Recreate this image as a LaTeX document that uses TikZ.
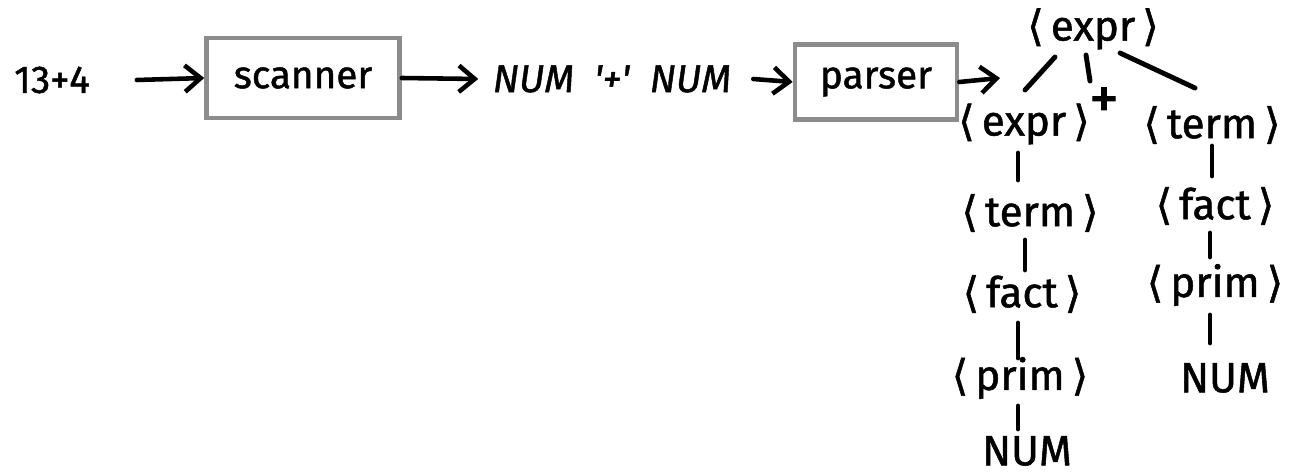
\documentclass[tikz,border=0pt]{standalone}
\usepackage{fontspec}
\setmainfont{Fira Sans}[FakeBold=1.2]
\newfontfamily\brk{DejaVu Sans}[FakeBold=1.2]
\usetikzlibrary{arrows.meta,calc}
\newcommand{\nt}[1]{{\brk ⟨}\,#1\,{\brk ⟩}}
\begin{document}
\begin{tikzpicture}[x=0.02cm, y=-0.02cm,
  every node/.style={font=\fontsize{22}{26}\selectfont, inner sep=1pt},
  sym/.style={font=\fontsize{24}{28}\selectfont},
  stagebox/.style={draw=black!45, line width=2.6pt, inner sep=0pt},
  flow/.style={line width=2.6pt, line cap=round, -{Straight Barb[length=9pt, width=15pt, line width=2.6pt]}},
  edge/.style={line width=2.8pt, line cap=round},
  token/.style={font=\fontsize{22}{26}\selectfont\itshape}]
  \useasboundingbox (0,0) rectangle (1293,476);
  % pipeline: input -> scanner -> token stream -> parser
  \node (input) at (52,80) {13+4};
  \node[stagebox, minimum width=3.86cm, minimum height=1.6cm] (scan) at (303,78) {scanner};
  \node[token] (tokens) at (612,79) {NUM\ \ \textquotesingle+\textquotesingle\ \ NUM};
  \node[stagebox, minimum width=3.24cm, minimum height=1.5cm] (parse) at (876,82) {parser};
  \coordinate (treein) at (1000,78);
  \draw[flow] ([xshift=0.9cm]input.east) -- (scan.west);
  \draw[flow] (scan.east) -- ([xshift=-0.25cm]tokens.west);
  \draw[flow] ([xshift=0.4cm]tokens.east) -- (parse.west);
  \draw[flow] (parse.east) -- (treein);
  % parse tree
  \node[sym] (e0) at (1093,29) {\nt{expr}};
  \node[sym] (e1) at (1024,124) {\nt{expr}};
  \node[font=\fontsize{34}{34}\selectfont] (plus) at (1104,103) {+};
  \node[sym] (t2) at (1212,125) {\nt{term}};
  \node[sym] (t1) at (1030,213) {\nt{term}};
  \node[sym] (f1) at (1022,294) {\nt{fact}};
  \node[sym] (p1) at (1020,378) {\nt{prim}};
  \node[sym] (n1) at (1027,451) {NUM};
  \node[sym] (f2) at (1215,206) {\nt{fact}};
  \node[sym] (p2) at (1215,285) {\nt{prim}};
  \node[sym] (n2) at (1225,378) {NUM};
  % branches below the root
  \draw[edge] ($(e0)+(-38,28)$) -- ($(e1)+(1,-34)$);
  \draw[edge] ($(e0)+(-7,26)$) -- ($(plus)+(-14,-22)$);
  \draw[edge] ($(e0)+(27,24)$) -- ($(t2)+(-17,-37)$);
  % left spine
  \draw[edge] ($(e1.center -| 1018,0)+(0,29)$) -- ($(t1.center -| 1018,0)+(0,-33)$);
  \draw[edge] ($(t1.center -| 1025,0)+(0,27)$) -- ($(f1.center -| 1025,0)+(0,-24)$);
  \draw[edge] ($(f1.center -| 1018,0)+(0,29)$) -- ($(p1.center -| 1018,0)+(0,-20)$);
  \draw[edge] ($(p1.center -| 1018,0)+(0,28)$) -- ($(n1.center -| 1018,0)+(0,-22)$);
  % right spine
  \draw[edge] ($(t2.center -| 1212,0)+(0,21)$) -- ($(f2.center -| 1212,0)+(0,-30)$);
  \draw[edge] ($(f2.center -| 1210,0)+(0,27)$) -- ($(p2.center -| 1210,0)+(0,-28)$);
  \draw[edge] ($(p2.center -| 1210,0)+(0,30)$) -- ($(n2.center -| 1210,0)+(0,-35)$);
\end{tikzpicture}
\end{document}
